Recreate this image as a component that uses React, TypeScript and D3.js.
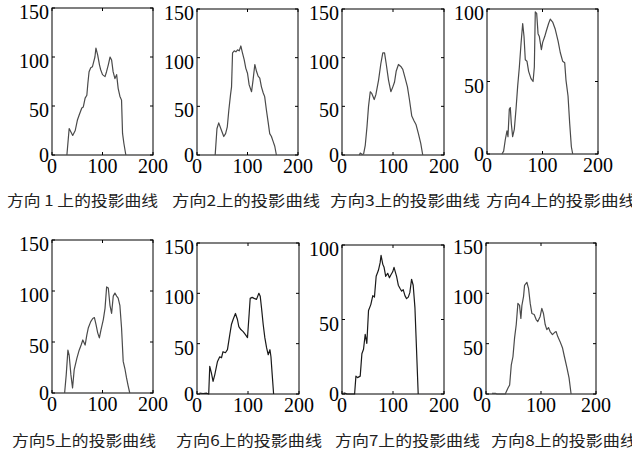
import * as d3 from 'd3'

type Pt = [number, number]

// 各方向上的投影曲线 (x, 投影值)
const dir1: Pt[] = [
  [29.5, 0], [34, 27], [41, 20], [46, 25], [50.5, 36], [54, 41], [59, 48], [62, 49], [65.6, 58],
  [69, 61], [71, 73], [73.4, 85], [76.7, 89], [80, 90], [82, 94], [85, 100], [87, 109], [90.5, 102],
  [94, 92], [96.4, 87], [100, 82], [105, 80], [108, 85], [111.5, 92], [115, 100], [118, 97],
  [121, 85], [124.6, 78], [128, 82], [131, 68], [134.4, 60], [137.7, 56], [139.7, 22], [142.3, 12],
  [146.2, 0],
]
const dir2: Pt[] = [
  [36, 0], [39.5, 27], [43, 33], [48, 26], [53, 19], [56.6, 22], [60, 29], [63, 46], [66.4, 62],
  [68.4, 70], [70.4, 105], [73.7, 107], [77, 106], [80.3, 108], [83.6, 107], [86.8, 112], [89.5, 106],
  [93.4, 98], [96.7, 89], [100, 84], [103.3, 72], [108, 65], [111, 77], [114.5, 93], [117.8, 86],
  [121, 81], [124.3, 79], [127.6, 70], [131, 64], [134, 60], [137.5, 46], [140.8, 34], [144, 22],
  [147.4, 19], [150.7, 14], [154, 9], [157.2, 0],
]
const dir3: Pt[] = [
  [34, 0], [35.8, 2], [39, 0.7], [42.3, 1], [45.6, 10], [49, 29], [52, 50], [55.4, 65], [58.6, 63],
  [63.2, 57], [66.4, 62], [71.7, 77], [76.2, 94], [80, 105], [83.4, 105], [86.6, 94], [91.2, 77],
  [95.8, 65], [99.7, 70], [103, 75], [106.2, 86], [110.7, 93], [115.3, 91], [119.2, 88], [123.8, 79],
  [128.3, 70], [132.2, 57], [136.8, 40], [141.4, 35], [145.3, 31], [149.8, 22], [154.4, 12], [158.3, 0],
]
const dir4: Pt[] = [
  [27, 0], [30, 2], [33, 10], [36, 16], [37.8, 12], [40.2, 31], [42, 32], [43.8, 21], [46.2, 12],
  [49.2, 17], [52.3, 31], [55.3, 47], [58.3, 60], [61.3, 76], [64.3, 90], [66.7, 81], [69, 65],
  [72, 64], [75, 57], [79.3, 52], [83, 50], [85.3, 60], [87, 98], [89.5, 97], [92, 83], [94.3, 81],
  [98, 72], [100.3, 77], [104, 81], [107, 85], [111, 90], [114, 93], [118.3, 91], [123, 86],
  [128, 78], [132, 70], [136.3, 64], [140, 63], [142.3, 51], [146, 40], [149, 21], [152, 5], [154.4, 0],
]
const dir5: Pt[] = [
  [25, 0], [28.2, 18], [31.5, 42], [34, 37], [37.4, 18], [40.7, 5], [44, 23], [49.2, 34], [53.8, 42],
  [57.7, 47], [61, 52], [65.6, 47], [69, 57], [72, 64], [76.7, 70], [80.7, 73], [84, 74], [87.2, 67],
  [90.5, 59], [93.8, 54], [97, 62], [101.6, 72], [105, 83], [108.2, 104], [111.5, 103], [114.8, 86],
  [118, 78], [121.3, 95], [124.6, 98], [128, 95], [131, 93], [134.4, 86], [137.7, 64], [141, 31],
  [144.3, 24], [147.5, 15], [150.8, 7], [154, 0],
]
const dir6: Pt[] = [
  [5, 0.8], [12, 0.5], [19, 0.8], [23, 0], [25, 27.5], [28.2, 21], [31.5, 12.6], [34.8, 19], [40, 32],
  [44.6, 37], [48, 36], [51, 42], [55.7, 41], [59.7, 44], [64.3, 59], [67.5, 69], [70.8, 74],
  [75.4, 80], [79.3, 74], [82, 67], [86, 64], [90.5, 62], [95, 59], [99, 56], [102.3, 80], [104.3, 95],
  [108.2, 96], [112, 95], [116.7, 94], [121.3, 100], [124, 97], [126.6, 85], [129.8, 69], [133, 56],
  [136.4, 46], [139.7, 39], [143, 44], [145, 37], [147.5, 19], [150.2, 0],
]
const dir7: Pt[] = [
  [3, 0.8], [6.5, 0.4], [10, 0], [24.7, 0], [27.3, 12], [30.5, 11], [35.7, 12], [39, 27], [42.2, 30],
  [45.5, 40], [48.7, 34], [52, 56], [56.5, 60], [60.4, 66], [63.6, 65], [67, 79], [71.4, 83],
  [74.7, 88], [76.6, 93], [80, 87], [82.5, 85], [85.7, 79], [89.6, 81], [93, 78], [96, 80], [99.4, 82],
  [102, 85], [104.5, 82], [107, 79], [110.4, 73], [113.6, 71], [117, 69], [120, 70], [123.4, 66],
  [126.6, 64], [130, 65], [133, 68], [136.4, 77], [139.6, 73], [143, 58], [146, 31], [149.4, 0],
]
const dir8: Pt[] = [
  [10.9, 0.7], [17, 0.7], [20, 0], [35, 0], [40, 6], [43, 9], [46, 29], [49, 37], [52, 56], [55, 69],
  [58, 90], [61, 88], [63.4, 75], [65.3, 88], [68.3, 97], [70.1, 108], [74.3, 111], [77.3, 105],
  [80.4, 90], [83.4, 80], [87.6, 79], [91.2, 74], [94.2, 72], [98.5, 77], [101.5, 85], [104.5, 80],
  [107.6, 69], [110.6, 64], [113.6, 66], [116.6, 62], [120.8, 59], [124.5, 61], [127.5, 62],
  [130.5, 57], [134.7, 52], [139, 46], [142.6, 37], [146.8, 27], [151, 16], [154.7, 0],
]

const xTicks = [0, 100, 200]
const yTicks150 = [0, 50, 100, 150]
const yTicks100 = [0, 50, 100]

const captions = [
  '方向 1 上的投影曲线', '方向2上的投影曲线', '方向3上的投影曲线', '方向4上的投影曲线',
  '方向5上的投影曲线', '方向6上的投影曲线', '方向7上的投影曲线', '方向8上的投影曲线',
]

// 子图布局（像素）
const panels = [
  { data: dir1, yMax: 150, yTicks: yTicks150, x0: 52, x1: 153, y0: 8, y1: 155, color: '#4a4a4a' },
  { data: dir2, yMax: 150, yTicks: yTicks150, x0: 197, x1: 298, y0: 9, y1: 155, color: '#4a4a4a' },
  { data: dir3, yMax: 150, yTicks: yTicks150, x0: 342, x1: 444, y0: 9, y1: 155, color: '#4a4a4a' },
  { data: dir4, yMax: 100, yTicks: yTicks100, x0: 487, x1: 598, y0: 9, y1: 154, color: '#4a4a4a' },
  { data: dir5, yMax: 150, yTicks: yTicks150, x0: 52, x1: 153, y0: 240, y1: 393, color: '#4a4a4a' },
  { data: dir6, yMax: 150, yTicks: yTicks150, x0: 197, x1: 299, y0: 243, y1: 394, color: '#1a1a1a' },
  { data: dir7, yMax: 100, yTicks: yTicks100, x0: 342, x1: 444, y0: 245, y1: 394, color: '#1a1a1a' },
  { data: dir8, yMax: 150, yTicks: yTicks150, x0: 486, x1: 596, y0: 243, y1: 394, color: '#4a4a4a' },
]

const captionPos = [
  { x: 7, y: 206, w: 151 }, { x: 172, y: 206, w: 148 }, { x: 330, y: 206, w: 150 }, { x: 486, y: 206, w: 150 },
  { x: 12, y: 446, w: 144 }, { x: 176, y: 446, w: 146 }, { x: 335, y: 446, w: 145 }, { x: 491, y: 446, w: 146 },
]

const numFont = '"Liberation Serif", "DejaVu Serif", serif'
const cjkFont = '"Noto Sans CJK SC", sans-serif'

function Panel({ p }: { p: typeof panels[number] }) {
  const x = d3.scaleLinear().domain([0, 200]).range([p.x0, p.x1])
  const y = d3.scaleLinear().domain([0, p.yMax]).range([p.y1, p.y0])
  const line = d3.line<Pt>().x(d => x(d[0])).y(d => y(d[1]))
  const tk = 3
  return (
    <g>
      <rect x={p.x0} y={p.y0} width={p.x1 - p.x0} height={p.y1 - p.y0} fill="#fff" stroke="#000" strokeWidth={1} />
      {xTicks.map(t => (
        <g key={'x' + t}>
          <line x1={x(t)} x2={x(t)} y1={p.y1} y2={p.y1 - tk} stroke="#000" />
          <line x1={x(t)} x2={x(t)} y1={p.y0} y2={p.y0 + tk} stroke="#000" />
          <text x={x(t)} y={p.y1 + 18} textAnchor="middle" fontSize={20} fontFamily={numFont}>{t}</text>
        </g>
      ))}
      {p.yTicks.map(t => (
        <g key={'y' + t}>
          <line x1={p.x0} x2={p.x0 + tk} y1={y(t)} y2={y(t)} stroke="#000" />
          <line x1={p.x1} x2={p.x1 - tk} y1={y(t)} y2={y(t)} stroke="#000" />
          <text x={p.x0 - 3} y={y(t) + (t === 0 ? 7 : 11)} textAnchor="end" fontSize={20} fontFamily={numFont}>{t}</text>
        </g>
      ))}
      <path d={line(p.data) ?? ''} fill="none" stroke={p.color} strokeWidth={1.2} strokeLinejoin="round" />
    </g>
  )
}

export default function App() {
  return (
    <svg width={632} height={458} style={{ position: 'absolute', left: 0, top: 0, background: '#fff' }}>
      <rect width={632} height={458} fill="#fff" />
      {panels.map((p, i) => <Panel key={i} p={p} />)}
      {captions.map((c, i) => (
        <text key={c} x={captionPos[i].x} y={captionPos[i].y} fontSize={15} fontFamily={cjkFont}
          textLength={captionPos[i].w} lengthAdjust="spacingAndGlyphs" fill="#222">{c}</text>
      ))}
    </svg>
  )
}
